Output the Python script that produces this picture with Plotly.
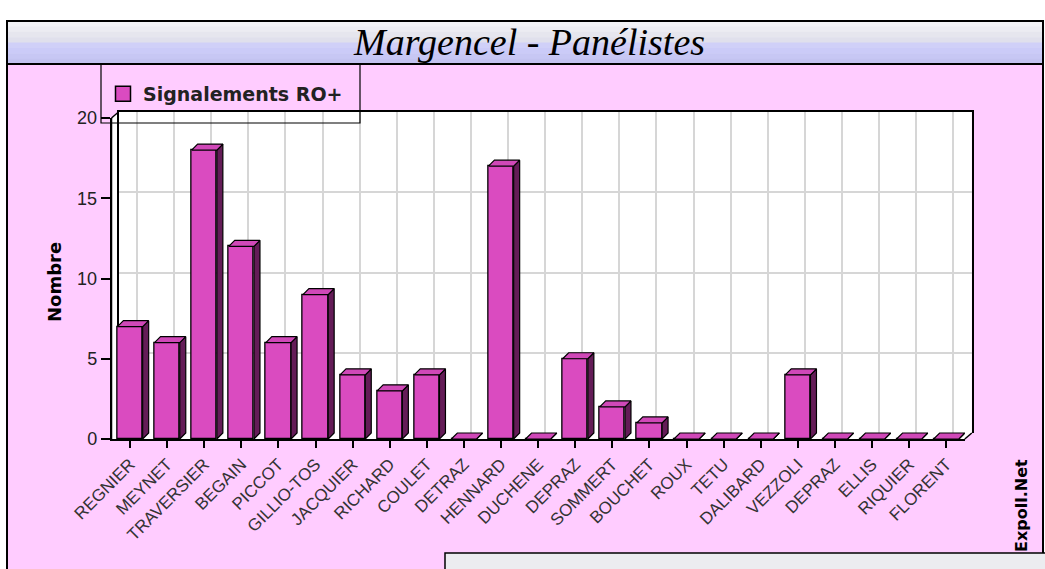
import plotly.graph_objects as go

# ---------------- data ----------------
names = ["REGNIER", "MEYNET", "TRAVERSIER", "BEGAIN", "PICCOT", "GILLIO-TOS",
         "JACQUIER", "RICHARD", "COULET", "DETRAZ", "HENNARD", "DUCHENE",
         "DEPRAZ", "SOMMERT", "BOUCHET", "ROUX", "TETU", "DALIBARD",
         "VEZZOLI", "DEPRAZ", "ELLIS", "RIQUIER", "FLORENT"]
values = [7, 6, 18, 12, 6, 9, 4, 3, 4, 0, 17, 0, 5, 2, 1, 0, 0, 0, 4, 0, 0, 0, 0]
y_ticks = [0, 5, 10, 15, 20]
series_name = "Signalements RO+"
title_text = "Margencel - Panélistes"
y_title = "Nombre"
credit = "Expoll.Net"

# ---------------- geometry (pixels) ----------------
W, H = 1045, 569
def fx(p): return p / W
def fy(p): return 1 - p / H

idx = list(range(len(names)))
x_range = [-0.5, len(names) - 0.5]
y_range = [0, 20]
front_x = (111.5, 964.8)
front_y = (118, 439)
back_x = (118.5, 971.8)
back_y = (112, 433)
depth_px = 6
bar_w = 0.68

px_per_x = (front_x[1] - front_x[0]) / (x_range[1] - x_range[0])
px_per_y = (front_y[1] - front_y[0]) / (y_range[1] - y_range[0])
dxu = depth_px / px_per_x
dyu = depth_px / px_per_y
h = bar_w / 2

FRONT = "#DA4BC0"
SIDE = "#641C57"
TOP = "#D048B8"
PINK = "#FFCCFF"
GRID = "#d6d6d6"

side_x, side_y, top_x, top_y = [], [], [], []
for xi, v in zip(idx, values):
    side_x += [xi + h, xi + h + dxu, xi + h + dxu, xi + h, xi + h, None]
    side_y += [0, dyu, v + dyu, v, 0, None]
    top_x += [xi - h, xi - h + dxu, xi + h + dxu, xi + h, xi - h, None]
    top_y += [v, v + dyu, v + dyu, v, v, None]

fig = go.Figure()
# invisible trace so the back-plane subplot is fully built
fig.add_trace(go.Scatter(x=idx, y=values, mode="markers", marker=dict(opacity=0),
                         xaxis="x", yaxis="y", showlegend=False, hoverinfo="skip"))
fig.add_trace(go.Bar(
    x=idx, y=values, width=bar_w, name=series_name,
    marker=dict(color=FRONT, line=dict(color="black", width=1.3)),
    xaxis="x2", yaxis="y2", showlegend=False, hoverinfo="skip"))
fig.add_trace(go.Scatter(
    x=side_x, y=side_y, mode="lines", fill="toself", fillcolor=SIDE,
    line=dict(color="black", width=1.2), xaxis="x2", yaxis="y2",
    showlegend=False, hoverinfo="skip"))
fig.add_trace(go.Scatter(
    x=top_x, y=top_y, mode="lines", fill="toself", fillcolor=TOP,
    line=dict(color="black", width=1.2), xaxis="x2", yaxis="y2",
    showlegend=False, hoverinfo="skip"))
# legend entry with a larger square swatch
fig.add_trace(go.Scatter(
    x=[None], y=[None], mode="markers", name=series_name,
    marker=dict(symbol="square", size=15, color=FRONT, line=dict(color="black", width=1.5)),
    xaxis="x2", yaxis="y2", showlegend=True, hoverinfo="skip"))

shapes = []
# pink page area and title bar
shapes.append(dict(type="rect", xref="paper", yref="paper", layer="below",
                   x0=fx(7), x1=fx(1043), y0=fy(64), y1=fy(580),
                   fillcolor=PINK, line=dict(color="black", width=2)))
bar_cols = ["#f2f2f6", "#ececf2", "#e6e6ee", "#e0e0ec", "#d0d0f8", "#cbcbf8", "#c7c7f4", "#c3c3f0"]
t0, t1 = 21, 64
step = (t1 - t0) / len(bar_cols)
for i, c in enumerate(bar_cols):
    shapes.append(dict(type="rect", xref="paper", yref="paper", layer="below",
                       x0=fx(7), x1=fx(1043), y0=fy(t0 + i * step), y1=fy(t0 + (i + 1) * step + 0.5),
                       fillcolor=c, line=dict(width=0)))
shapes.append(dict(type="rect", xref="paper", yref="paper", layer="below",
                   x0=fx(7), x1=fx(1043), y0=fy(t0), y1=fy(t1),
                   fillcolor="rgba(0,0,0,0)", line=dict(color="black", width=2)))
# back plane (white) inside the back subplot
shapes.append(dict(type="rect", xref="x domain", yref="y domain", layer="below",
                   x0=0, x1=1, y0=0, y1=1, fillcolor="white", line=dict(width=0)))
# left wall and floor strips (white)
shapes.append(dict(type="path", xref="paper", yref="paper", layer="below",
                   path="M {a},{b} L {c},{d} L {c},{e} L {f},{g} L {a},{g} Z".format(
                       a=fx(front_x[0]), b=fy(front_y[0]), c=fx(back_x[0]), d=fy(back_y[0]),
                       e=fy(back_y[1]), f=fx(back_x[1]), g=fy(front_y[1])),
                   fillcolor="white", line=dict(width=0)))
shapes.append(dict(type="path", xref="paper", yref="paper", layer="below",
                   path="M {a},{b} L {c},{d} L {e},{d} L {f},{b} Z".format(
                       a=fx(front_x[0]), b=fy(front_y[1]), c=fx(back_x[0]), d=fy(back_y[1]),
                       e=fx(back_x[1]), f=fx(front_x[1])),
                   fillcolor="white", line=dict(width=0)))
# front frame edges and depth edges
for (ax, ay, bx, by) in [(front_x[0], front_y[0], back_x[0], back_y[0]),
                         (front_x[1], front_y[1], back_x[1], back_y[1]),
                         (front_x[0], front_y[0], front_x[0], front_y[1])]:
    shapes.append(dict(type="line", xref="paper", yref="paper", layer="above",
                       x0=fx(ax), y0=fy(ay), x1=fx(bx), y1=fy(by),
                       line=dict(color="black", width=1.5)))
# legend box
shapes.append(dict(type="rect", xref="paper", yref="paper", layer="above",
                   x0=fx(101), x1=fx(360), y0=fy(64), y1=fy(123),
                   fillcolor="rgba(0,0,0,0)", line=dict(color="black", width=1.2)))
# bottom-right panel
shapes.append(dict(type="rect", xref="paper", yref="paper", layer="above",
                   x0=fx(445), x1=fx(1050), y0=fy(553), y1=fy(580),
                   fillcolor="#ececf0", line=dict(color="black", width=1.5)))

annotations = [
    dict(text=title_text, xref="paper", yref="paper", x=fx(529), y=fy(42),
         xanchor="center", yanchor="middle", showarrow=False,
         font=dict(family="Liberation Serif", size=38, color="black", style="italic")),
    dict(text="<b>" + y_title + "</b>", xref="paper", yref="paper", x=fx(54), y=fy(282),
         xanchor="center", yanchor="middle", showarrow=False, textangle=-90,
         font=dict(family="DejaVu Sans", size=18, color="black")),
    dict(text="<b>" + credit + "</b>", xref="paper", yref="paper", x=fx(1021), y=fy(506),
         xanchor="center", yanchor="middle", showarrow=False, textangle=-90,
         font=dict(family="DejaVu Sans", size=16, color="black")),
]

fig.update_layout(
    width=W, height=H, margin=dict(l=0, r=0, t=0, b=0),
    paper_bgcolor="white", plot_bgcolor="rgba(0,0,0,0)",
    shapes=shapes, annotations=annotations, bargap=0,
    showlegend=True,
    legend=dict(x=fx(103), y=fy(75), xanchor="left", yanchor="top",
                bgcolor="rgba(0,0,0,0)", borderwidth=0, itemwidth=30,
                font=dict(family="DejaVu Sans", size=19, color="#222222", weight="bold")),
    xaxis=dict(domain=[fx(back_x[0]), fx(back_x[1])], range=x_range, anchor="y",
               tickmode="array", tickvals=idx, showticklabels=False, ticks="",
               showgrid=True, gridcolor=GRID, gridwidth=1.5, zeroline=False,
               showline=True, side="top", linecolor="black", linewidth=1.5,
               automargin=False, fixedrange=True),
    yaxis=dict(domain=[fy(back_y[1]), fy(back_y[0])], range=y_range, anchor="x",
               tickmode="array", tickvals=y_ticks, showticklabels=False, ticks="",
               showgrid=True, gridcolor=GRID, gridwidth=1.5, zeroline=False,
               showline=True, mirror=True, linecolor="black", linewidth=1.5,
               automargin=False, fixedrange=True),
    xaxis2=dict(domain=[fx(front_x[0]), fx(front_x[1])], range=x_range, anchor="y2",
                tickmode="array", tickvals=idx, ticktext=names, tickangle=-45,
                ticks="outside", ticklen=7, tickwidth=1.5, tickcolor="black",
                tickfont=dict(family="Liberation Sans", size=17, color="#333333"),
                showgrid=False, zeroline=False, showline=True,
                linecolor="black", linewidth=1.5, automargin=False, fixedrange=True),
    yaxis2=dict(domain=[fy(front_y[1]), fy(front_y[0])], range=y_range, anchor="x2",
                tickmode="array", tickvals=y_ticks,
                ticks="outside", ticklen=9, tickwidth=1.5, tickcolor="black",
                tickfont=dict(family="Liberation Sans", size=18, color="#222222"),
                showgrid=False, zeroline=False, showline=True,
                linecolor="black", linewidth=1.5, automargin=False, fixedrange=True),
)

fig.write_html("out.html", config={"displayModeBar": False},
               post_script="document.body.style.margin='0';document.body.style.overflow='hidden';")
